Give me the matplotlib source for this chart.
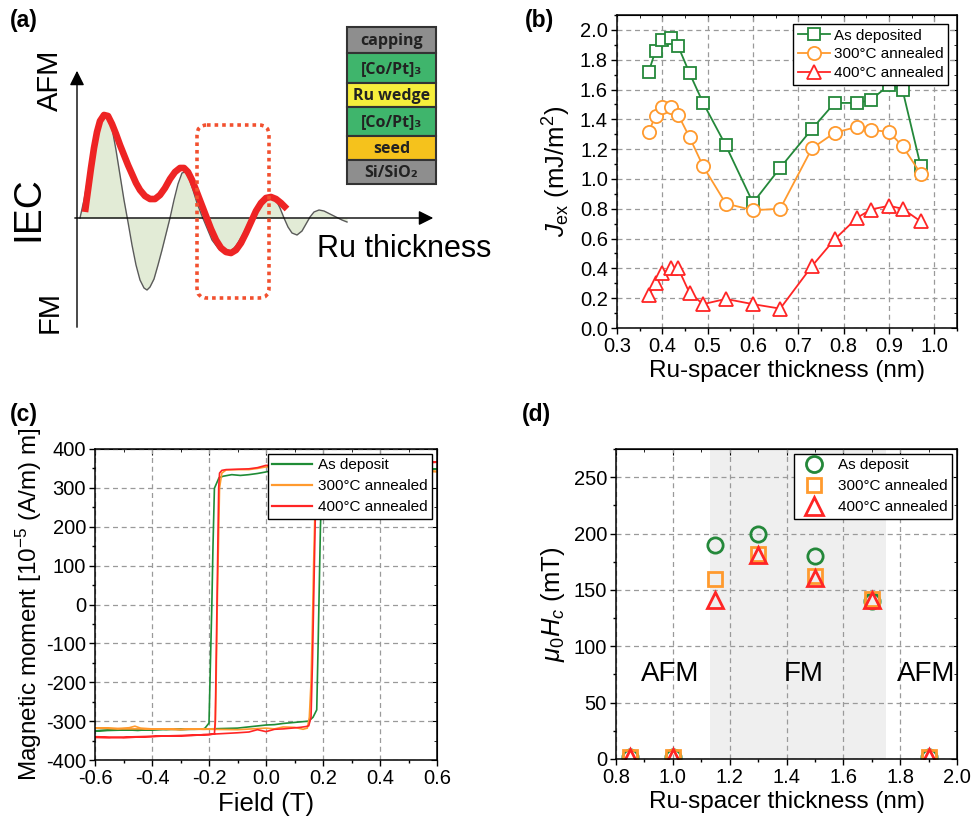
import matplotlib
matplotlib.use("Agg")
import matplotlib.pyplot as plt
from matplotlib.patches import Rectangle, FancyBboxPatch
from matplotlib.ticker import MultipleLocator

plt.rcParams['font.family'] = ['Liberation Sans', 'DejaVu Sans']
plt.rcParams['mathtext.fontset'] = 'custom'
plt.rcParams['mathtext.rm'] = 'Liberation Sans'
plt.rcParams['mathtext.it'] = 'Liberation Sans:italic'
plt.rcParams['mathtext.bf'] = 'Liberation Sans:bold'
plt.rcParams['axes.unicode_minus'] = False

# ---------------- data ----------------
# (a) schematic curves (pixel-like schematic coordinates)
iec_x = [80, 84, 88, 92, 96, 100, 104, 108, 112, 116, 120, 124, 128, 132, 136, 140, 144, 147, 150, 154,
         158, 162, 166, 170, 174, 178, 182, 185, 189, 193, 197, 202, 207, 212, 218, 224, 230, 236, 242,
         248, 254, 259, 264, 268, 272, 276, 280, 284, 288, 292, 297, 302, 306, 310, 314, 319, 324, 330,
         336, 342, 347]
iec_y = [218, 200, 178, 155, 135, 121, 115, 116, 128, 150, 175, 200, 222, 245, 265, 280, 288, 290, 287, 279,
         265, 250, 234, 218, 200, 184, 173, 172, 178, 190, 203, 216, 228, 240, 248, 253, 252, 246, 236,
         224, 212, 204, 199, 197, 197, 200, 208, 218, 227, 233, 235, 231, 224, 217, 212, 210, 211, 214,
         217, 220, 222]
red_x = [85, 88, 91, 94, 97, 100, 104, 108, 112, 116, 120, 124, 128, 132, 136, 140, 145, 150, 155, 160,
         165, 170, 175, 180, 184, 188, 192, 196, 201, 206, 211, 216, 221, 226, 231, 236, 241, 246, 251,
         256, 261, 266, 271, 276, 281, 287]
red_y = [212, 190, 168, 148, 132, 121, 115, 116, 124, 134, 145, 155, 165, 174, 183, 190, 196, 199, 199, 195,
         188, 179, 172, 168, 168, 172, 180, 190, 203, 216, 229, 240, 248, 252, 253, 250, 243, 233, 222,
         211, 203, 198, 197, 199, 203, 209]
layer_names = ['capping', '[Co/Pt]₃', 'Ru wedge', '[Co/Pt]₃', 'seed', 'Si/SiO₂']
layer_colors = ['#8e8e8e', '#3fb56c', '#f6ee3c', '#3fb56c', '#f5c21c', '#8e8e8e']
layer_heights = [26, 30, 24, 29, 24, 24]

# (b) exchange coupling
ru_b = [0.37, 0.385, 0.40, 0.42, 0.435, 0.46, 0.49, 0.54, 0.60, 0.66, 0.73, 0.78, 0.83, 0.86, 0.90, 0.93, 0.97]
jex_asdep = [1.72, 1.86, 1.93, 1.945, 1.89, 1.71, 1.51, 1.225, 0.84, 1.075, 1.335, 1.51, 1.51, 1.53, 1.63, 1.595, 1.085]
jex_300 = [1.315, 1.425, 1.48, 1.48, 1.43, 1.28, 1.085, 0.835, 0.79, 0.80, 1.205, 1.31, 1.35, 1.33, 1.315, 1.22, 1.035]
jex_400 = [0.22, 0.30, 0.37, 0.40, 0.40, 0.235, 0.16, 0.195, 0.16, 0.13, 0.415, 0.595, 0.74, 0.795, 0.82, 0.80, 0.715]
legend_b = ['As deposited', '300°C annealed', '400°C annealed']

# (c) hysteresis loops: descending then ascending branch
field_green = [0.60, 0.55, 0.50, 0.45, 0.40, 0.35, 0.30, 0.25, 0.20, 0.15, 0.10, 0.05, 0.02, 0.00, -0.03, -0.06,
               -0.09, -0.12, -0.15, -0.165, -0.181, -0.186, -0.19, -0.195, -0.20, -0.214, -0.22, -0.26, -0.30,
               -0.35, -0.40, -0.45, -0.50, -0.55, -0.60,
               -0.60, -0.55, -0.50, -0.45, -0.40, -0.35, -0.30, -0.25, -0.20, -0.15, -0.10, -0.05, 0.00, 0.03,
               0.06, 0.09, 0.12, 0.15, 0.165, 0.178, 0.183, 0.187, 0.191, 0.196, 0.20, 0.21, 0.25, 0.30, 0.40,
               0.50, 0.60]
moment_green = [348, 350, 349, 351, 350, 349, 350, 348, 347, 346, 345, 343, 344, 341, 337, 334,
                332, 334, 330, 326, 299, 150, 0, -150, -305, -318, -320, -321, -322,
                -320, -323, -321, -323, -324, -325,
                -325, -323, -322, -324, -321, -322, -320, -321, -320, -319, -318, -314, -310, -309,
                -306, -304, -302, -300, -290, -271, -100, 50, 200, 300, 325, 335, 341, 345, 348,
                350, 348]
field_300 = [0.60, 0.50, 0.40, 0.30, 0.20, 0.10, 0.05, 0.00, -0.03, -0.06, -0.10, -0.14, -0.155, -0.163,
             -0.167, -0.171, -0.175, -0.178, -0.18, -0.22, -0.26, -0.30, -0.35, -0.40, -0.44, -0.46, -0.48,
             -0.52, -0.56, -0.60,
             -0.60, -0.50, -0.40, -0.30, -0.20, -0.10, -0.05, 0.00, 0.03, 0.06, 0.10, 0.13, 0.145, 0.152,
             0.158, 0.163, 0.167, 0.172, 0.178, 0.19, 0.22, 0.30, 0.40, 0.50, 0.60]
moment_300 = [342, 345, 348, 350, 352, 354, 355, 354, 350, 347, 347, 346, 338, 300,
              150, 0, -200, -310, -320, -321, -320, -322, -321, -320, -318, -313, -317,
              -319, -318, -318,
              -318, -320, -320, -321, -321, -322, -320, -318, -320, -315, -316, -321, -318, -290,
              -200, -50, 100, 250, 320, 338, 344, 347, 348, 345, 342]
field_400 = [0.60, 0.50, 0.40, 0.30, 0.20, 0.10, 0.05, 0.00, -0.03, -0.06, -0.10, -0.14, -0.155, -0.163,
             -0.166, -0.170, -0.174, -0.178, -0.181, -0.20, -0.22, -0.26, -0.30, -0.35, -0.40, -0.45, -0.50,
             -0.55, -0.60,
             -0.60, -0.55, -0.50, -0.45, -0.40, -0.35, -0.30, -0.25, -0.20, -0.15, -0.10, -0.06, -0.03, 0.00,
             0.03, 0.06, 0.09, 0.12, 0.14, 0.15, 0.158, 0.163, 0.167, 0.171, 0.175, 0.18, 0.20, 0.25, 0.30,
             0.40, 0.50, 0.60]
moment_400 = [366, 364, 362, 360, 359, 357, 356, 358, 352, 349, 348, 347, 345, 338,
              300, 100, -100, -300, -333, -335, -335, -337, -338, -338, -340, -341, -343,
              -341, -340,
              -342, -343, -341, -340, -339, -338, -337, -336, -334, -332, -330, -328, -322, -327,
              -321, -320, -318, -316, -314, -312, -290, -150, 0, 150, 300, 340, 352, 356, 358,
              362, 364, 366]
legend_c = ['As deposit', '300°C annealed', '400°C annealed']

# (d) coercive field
ru_d = [0.85, 1.0, 1.15, 1.30, 1.50, 1.70, 1.90]
hc_asdep = [2, 2, 190, 200, 180, 140, 2]
hc_300 = [2, 2, 160, 182, 162, 142, 2]
hc_400 = [2, 2, 141, 181, 161, 141, 2]
fm_region = [1.13, 1.75]
region_labels = ['AFM', 'FM', 'AFM']
region_label_x = [0.99, 1.46, 1.89]
legend_d = ['As deposit', '300°C annealed', '400°C annealed']

GREEN = '#24883a'
ORANGE = '#ff9a2e'
RED = '#ff2525'
TICK_FS = 14.5
LABEL_FS = 17.5
LEG_FS = 11

W, H = 971, 819
fig = plt.figure(figsize=(W / 100, H / 100), dpi=100)


def axrect(l, t, r, b):
    return [l / W, 1 - b / H, (r - l) / W, (b - t) / H]


def mirror_ticks(ax):
    sx = ax.secondary_xaxis('top')
    sx.set_xticks(ax.get_xticks())
    sx.xaxis.set_minor_locator(ax.xaxis.get_minor_locator())
    sx.tick_params(which='both', direction='in', labeltop=False)
    sx.tick_params(which='major', length=4.5)
    sx.tick_params(which='minor', length=2.5)
    sy = ax.secondary_yaxis('right')
    sy.set_yticks(ax.get_yticks())
    sy.yaxis.set_minor_locator(ax.yaxis.get_minor_locator())
    sy.tick_params(which='both', direction='in', labelright=False)
    sy.tick_params(which='major', length=4.5)
    sy.tick_params(which='minor', length=2.5)


def base_axes(ax):
    ax.tick_params(which='both', direction='out', labelsize=TICK_FS, width=1, pad=2)
    ax.tick_params(which='major', length=4.5)
    ax.tick_params(which='minor', length=2.5)
    for s in ax.spines.values():
        s.set_linewidth(1.1)
    ax.grid(True, which='major', ls=(0, (4, 3)), color='#9a9a9a', lw=0.9)
    ax.set_axisbelow(True)


def boxed_legend(ax, **kw):
    lg = ax.legend(loc='upper right', fontsize=LEG_FS, frameon=True, fancybox=False, edgecolor='black',
                   framealpha=1, borderpad=0.3, **kw)
    lg.get_frame().set_linewidth(1.0)
    return lg


# ---------------- (a) ----------------
axa = fig.add_axes(axrect(0, 0, 480, 330))
axa.set_xlim(0, 480)
axa.set_ylim(330, 0)
axa.axis('off')
axa.fill_between(iec_x, iec_y, 218, color='#e2ebd6', zorder=1, lw=0)
axa.plot(iec_x, iec_y, color='#5a5a5a', lw=1.0, zorder=2)
axa.annotate('', xy=(436, 218), xytext=(72, 218),
             arrowprops=dict(arrowstyle='-|>', color='black', lw=1.0, mutation_scale=22), zorder=3)
axa.annotate('', xy=(77, 68), xytext=(77, 330),
             arrowprops=dict(arrowstyle='-|>', color='black', lw=1.0, mutation_scale=22), zorder=3)
axa.plot(red_x, red_y, color='#ee2424', lw=4.8, solid_capstyle='butt', solid_joinstyle='round', zorder=4)
axa.add_patch(FancyBboxPatch((197, 125), 72, 173, boxstyle='round,pad=0,rounding_size=10',
                             fill=False, ec='#f2502f', lw=2.6, ls=(0, (1, 1.1)), zorder=5))
axa.text(28, 209, 'IEC', rotation=90, fontsize=28, ha='center', va='center')
axa.text(50, 80, 'AFM', rotation=90, fontsize=21, ha='center', va='center')
axa.text(50, 312, 'FM', rotation=90, fontsize=21, ha='center', va='center')
axa.text(317, 249, 'Ru thickness', fontsize=22, ha='left', va='center')
top = 27
for name, col, h in zip(layer_names, layer_colors, layer_heights):
    axa.add_patch(Rectangle((347, top), 89, h, fc=col, ec='#333333', lw=1.5, zorder=6))
    axa.text(391.5, top + h / 2 + 1, name, fontsize=11.5, fontweight='bold', ha='center', va='center',
             family=['Open Sans', 'DejaVu Sans'], color='#222222', zorder=7)
    top += h

# ---------------- (b) ----------------
axb = fig.add_axes(axrect(617, 15, 957, 328))
base_axes(axb)
kw = dict(lw=1.3, mfc='white', mew=1.3)
axb.plot(ru_b, jex_asdep, '-s', color=GREEN, ms=8.5, label=legend_b[0], **kw)
axb.plot(ru_b, jex_300, '-o', color=ORANGE, ms=9.5, label=legend_b[1], **kw)
axb.plot(ru_b, jex_400, '-^', color=RED, ms=10.5, label=legend_b[2], **kw)
axb.set_xlim(0.3, 1.05)
axb.set_ylim(0, 2.1)
axb.xaxis.set_minor_locator(MultipleLocator(0.05))
axb.yaxis.set_minor_locator(MultipleLocator(0.1))
axb.set_xticks([0.3, 0.4, 0.5, 0.6, 0.7, 0.8, 0.9, 1.0])
axb.set_yticks([0.0, 0.2, 0.4, 0.6, 0.8, 1.0, 1.2, 1.4, 1.6, 1.8, 2.0])
mirror_ticks(axb)
axb.set_xlabel('Ru-spacer thickness (nm)', fontsize=LABEL_FS, labelpad=3)
axb.set_ylabel(r'$J_{\rm ex}$ (mJ/m$^2$)', fontsize=LABEL_FS + 1, labelpad=5)
boxed_legend(axb, handlelength=2.1, labelspacing=0.3, handletextpad=0.25, borderaxespad=0.6)

# ---------------- (c) ----------------
axc = fig.add_axes(axrect(95, 449, 437, 760))
base_axes(axc)
axc.plot(field_green, moment_green, color='#1f8c36', lw=1.2, label=legend_c[0])
axc.plot(field_300, moment_300, color=ORANGE, lw=1.2, label=legend_c[1])
axc.plot(field_400, moment_400, color=RED, lw=1.2, label=legend_c[2])
axc.set_xlim(-0.6, 0.6)
axc.set_ylim(-400, 400)
axc.xaxis.set_minor_locator(MultipleLocator(0.1))
axc.yaxis.set_minor_locator(MultipleLocator(50))
axc.set_xticks([-0.6, -0.4, -0.2, 0.0, 0.2, 0.4, 0.6])
axc.set_yticks(range(-400, 401, 100))
mirror_ticks(axc)
axc.set_xlabel('Field (T)', fontsize=LABEL_FS + 1, labelpad=3)
axc.set_ylabel(r'Magnetic moment [10$^{-5}$ (A/m) m]', fontsize=LABEL_FS, labelpad=1)
lg = boxed_legend(axc, handlelength=2.6, labelspacing=0.45, handletextpad=0.4, borderaxespad=0.3)
for l in lg.get_lines():
    l.set_linewidth(1.6)

# ---------------- (d) ----------------
axd = fig.add_axes(axrect(616, 449, 957, 759))
base_axes(axd)
axd.axvspan(fm_region[0], fm_region[1], color='#efefef', zorder=0, lw=0)
mk = dict(ls='none', mfc='none', mew=2.0)
axd.plot(ru_d, hc_asdep, 'o', color=GREEN, ms=11, label=legend_d[0], **mk)
axd.plot(ru_d, hc_300, 's', color=ORANGE, ms=10, label=legend_d[1], **mk)
axd.plot(ru_d, hc_400, '^', color=RED, ms=12, label=legend_d[2], **mk)
for lab, xx in zip(region_labels, region_label_x):
    axd.text(xx, 75, lab, fontsize=20, ha='center', va='center')
axd.set_xlim(0.8, 2.0)
axd.set_ylim(0, 275)
axd.xaxis.set_minor_locator(MultipleLocator(0.1))
axd.yaxis.set_minor_locator(MultipleLocator(25))
axd.set_xticks([0.8, 1.0, 1.2, 1.4, 1.6, 1.8, 2.0])
axd.set_yticks([0, 50, 100, 150, 200, 250])
mirror_ticks(axd)
axd.set_xlabel('Ru-spacer thickness (nm)', fontsize=LABEL_FS, labelpad=3)
axd.set_ylabel(r'$\mu_0H_c$ (mT)', fontsize=LABEL_FS + 1, labelpad=5)
boxed_legend(axd, handlelength=2.0, labelspacing=0.45, handletextpad=0.6, borderaxespad=0.3,
             markerscale=1.05)

# panel letters
for lab, x, y in [('(a)', 10, 20), ('(b)', 525, 20), ('(c)', 10, 414), ('(d)', 522, 414)]:
    fig.text(x / W, 1 - y / H, lab, fontsize=16.5, fontweight='bold', ha='left', va='center')

fig.savefig('out.png', dpi=100)
